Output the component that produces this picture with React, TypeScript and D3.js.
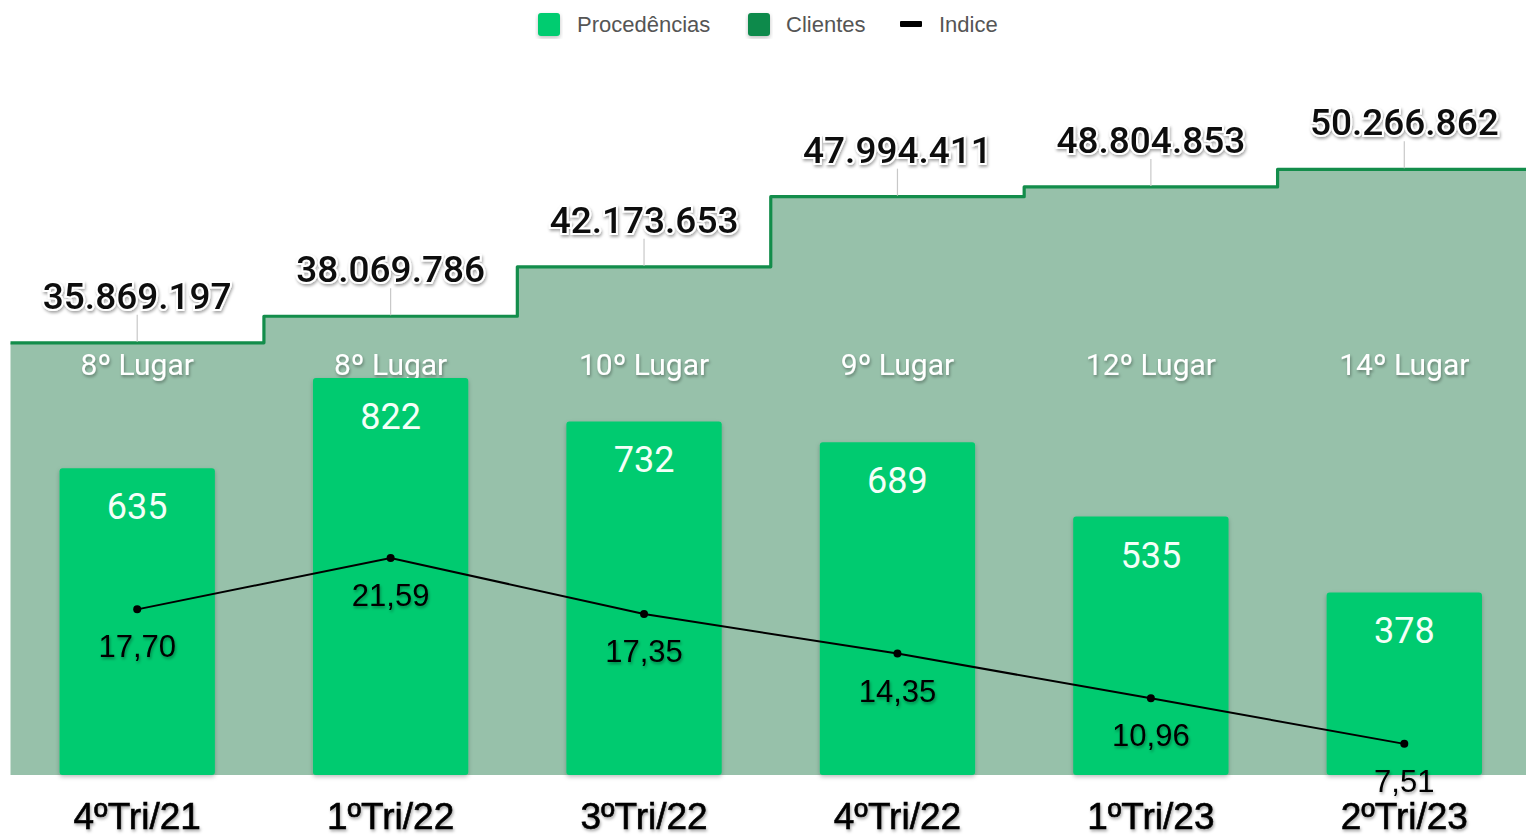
import React from "react";
import * as d3 from "d3";

const categories = ["4ºTri/21", "1ºTri/22", "3ºTri/22", "4ºTri/22", "1ºTri/23", "2ºTri/23"];
const procedencias = [635, 822, 732, 689, 535, 378];
const clientes = [35869197, 38069786, 42173653, 47994411, 48804853, 50266862];
const indice = [17.7, 21.59, 17.35, 14.35, 10.96, 7.51];
const lugar = ["8º Lugar", "8º Lugar", "10º Lugar", "9º Lugar", "12º Lugar", "14º Lugar"];

const W = 1526;
const H = 837;
const left = 10.5;
const right = 1531;
const bottom = 775;

const fmtThousands = (v: number) => d3.format(",")(v).replace(/,/g, ".");
const fmtComma = (v: number) => d3.format(".2f")(v).replace(".", ",");

export default function App() {
  const xBand = d3.scaleBand<string>().domain(categories).range([left, right]).paddingInner(0.387).paddingOuter(0.1935);
  const xStep = d3.scaleBand<string>().domain(categories).range([left, right]).padding(0);
  const yBar = d3.scaleLinear().domain([0, 1600]).range([bottom, bottom - 0.483 * 1600]);
  const yArea = d3.scaleLinear().domain([0, 60000000]).range([bottom, bottom - 12.05 * 60]);
  const yIdx = d3.scaleLinear().domain([0, 25]).range([843, 843 - 13.2 * 25]);

  const stepPts: [number, number][] = clientes.map((v, i) => [xStep(categories[i])!, v]);
  stepPts.push([right, clientes[clientes.length - 1]]);

  const area = d3.area<[number, number]>().x((d) => d[0]).y0(bottom).y1((d) => yArea(d[1])).curve(d3.curveStepAfter);
  const topLine = d3.line<[number, number]>().x((d) => d[0]).y((d) => yArea(d[1])).curve(d3.curveStepAfter);

  const cx = (i: number) => xStep(categories[i])! + xStep.bandwidth() / 2;
  const idxLine = d3.line<number>().x((_, i) => cx(i)).y((d) => yIdx(d));

  const font = "Roboto, 'Noto Sans', Arial, sans-serif";
  const arial = "'Liberation Sans', Arial, sans-serif";

  return (
    <svg width={W} height={H} style={{ position: "absolute", left: 0, top: 0, display: "block", overflow: "hidden" }} fontFamily={font}>
      <defs>
        <filter id="sh" x="-20%" y="-40%" width="140%" height="180%">
          <feDropShadow dx="1" dy="2" stdDeviation="1.6" floodColor="#000" floodOpacity="0.35" />
        </filter>
        <filter id="shBar" x="-10%" y="-10%" width="120%" height="120%">
          <feDropShadow dx="0" dy="2" stdDeviation="2" floodColor="#000" floodOpacity="0.25" />
        </filter>
      </defs>
      <rect x={0} y={0} width={W} height={H} fill="#fff" />

      {/* Legend */}
      <g fontFamily={arial} fontSize={22} fill="#555">
        <rect x={538} y={13} width={22} height={23} rx={3} fill="#06cc6f" filter="url(#shBar)" />
        <text x={577} y={32}>Procedências</text>
        <rect x={748} y={13} width={22} height={23} rx={3} fill="#0d8a4c" filter="url(#shBar)" />
        <text x={786} y={32}>Clientes</text>
        <rect x={900} y={21} width={22} height={6} rx={1} fill="#000" />
        <text x={939} y={32}>Indice</text>
      </g>

      {/* Clientes area */}
      <path d={area(stepPts)!} fill="#97c1aa" />
      <path d={topLine(stepPts)!} fill="none" stroke="#138d4b" strokeWidth={3.2} strokeLinejoin="round" />

      {/* Leader lines and area labels */}
      {clientes.map((v, i) => (
        <g key={"cl" + i}>
          <line x1={cx(i)} x2={cx(i)} y1={yArea(v) - 1} y2={yArea(v) - 28} stroke="#c8c8c8" strokeWidth={1.2} />
          <text
            x={cx(i)}
            y={yArea(v) - 34}
            textAnchor="middle"
            fontSize={37}
            fontWeight={500}
            fill="#111"
            stroke="#fff"
            strokeWidth={4}
            paintOrder="stroke"
            filter="url(#sh)"
          >
            {fmtThousands(v)}
          </text>
        </g>
      ))}

      {/* Lugar labels */}
      {lugar.map((t, i) => (
        <text key={"lg" + i} x={cx(i)} y={375} textAnchor="middle" fontSize={30} fill="#fff" filter="url(#sh)">
          {t}
        </text>
      ))}

      {/* Bars */}
      {procedencias.map((v, i) => (
        <rect
          key={"b" + i}
          x={xBand(categories[i])}
          y={yBar(v)}
          width={xBand.bandwidth()}
          height={bottom - yBar(v)}
          rx={3}
          fill="#02cb6f"
          filter="url(#shBar)"
        />
      ))}
      {procedencias.map((v, i) => (
        <text key={"bv" + i} x={cx(i)} y={yBar(v) + 51} textAnchor="middle" fontSize={36} fill="#f4fff8">
          {v}
        </text>
      ))}

      {/* Indice line */}
      <path d={idxLine(indice)!} fill="none" stroke="#000" strokeWidth={2} />
      {indice.map((v, i) => (
        <circle key={"d" + i} cx={cx(i)} cy={yIdx(v)} r={4} fill="#000" />
      ))}
      {indice.map((v, i) => (
        <text key={"iv" + i} x={cx(i)} y={yIdx(v) + 48} textAnchor="middle" fontFamily={arial} fontSize={31} fill="#000" filter="url(#sh)">
          {fmtComma(v)}
        </text>
      ))}

      {/* Category labels */}
      {categories.map((c, i) => (
        <text
          key={"c" + i}
          x={cx(i)}
          y={829}
          textAnchor="middle"
          fontFamily={arial}
          fontSize={37}
          fill="#000"
          stroke="#000"
          strokeWidth={0.6}
          filter="url(#sh)"
        >
          {c}
        </text>
      ))}
    </svg>
  );
}
